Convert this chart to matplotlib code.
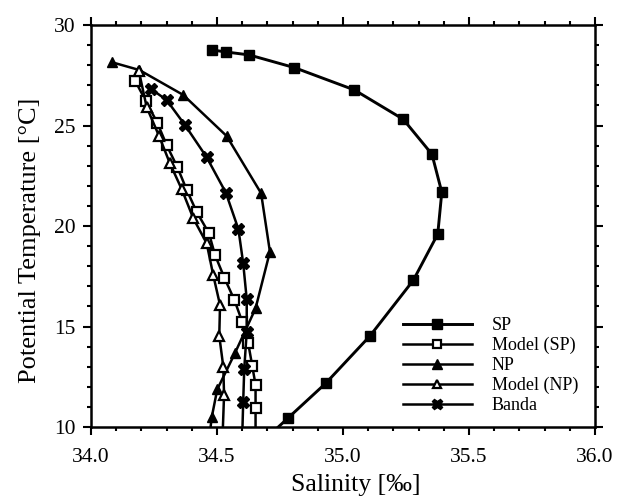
import matplotlib
matplotlib.use("Agg")
import matplotlib.pyplot as plt
from matplotlib.ticker import MultipleLocator, FormatStrFormatter

# ── Data (salinity [permil], potential temperature [degC]) ────────────────
SP_S = [34.479, 34.535, 34.628, 34.807, 35.045, 35.239, 35.353, 35.392,
        35.376, 35.279, 35.107, 34.931, 34.783, 34.700]
SP_T = [28.76, 28.66, 28.51, 27.88, 26.77, 25.31, 23.57, 21.68,
        19.60, 17.30, 14.53, 12.17, 10.46, 9.50]

MSP_S = [34.175, 34.217, 34.263, 34.300, 34.343, 34.380, 34.419, 34.468,
         34.492, 34.529, 34.569, 34.600, 34.624, 34.640, 34.653, 34.653, 34.653]
MSP_T = [27.23, 26.23, 25.14, 24.03, 22.92, 21.79, 20.71, 19.64,
         18.56, 17.43, 16.32, 15.24, 14.16, 13.03, 12.09, 10.93, 9.50]

NP_S = [34.085, 34.192, 34.366, 34.538, 34.675, 34.710, 34.653, 34.571,
        34.501, 34.479, 34.470]
NP_T = [28.14, 27.76, 26.52, 24.48, 21.63, 18.72, 15.90, 13.67,
        11.87, 10.48, 9.50]

MNP_S = [34.190, 34.221, 34.270, 34.313, 34.360, 34.406, 34.459, 34.485,
         34.512, 34.509, 34.525, 34.528, 34.522]
MNP_T = [27.70, 25.91, 24.48, 23.12, 21.83, 20.38, 19.14, 17.56,
         16.07, 14.53, 13.00, 11.59, 9.50]

BANDA_S = [34.238, 34.300, 34.373, 34.459, 34.535, 34.585, 34.604, 34.618,
           34.618, 34.608, 34.604, 34.600]
BANDA_T = [26.82, 26.27, 25.02, 23.42, 21.66, 19.84, 18.14, 16.35,
           14.74, 12.87, 11.26, 9.50]

LABELS = ["SP", "Model (SP)", "NP", "Model (NP)", "Banda"]

plt.rcParams["font.family"] = ["Liberation Serif", "DejaVu Serif"]

fig = plt.figure(figsize=(6.22, 5.01), dpi=100)
ax = fig.add_axes([0.1463, 0.1477, 0.8103, 0.8024])

ax.plot(SP_S, SP_T, "-s", color="black", lw=2.1, ms=7.5, mfc="black",
        mec="black", label=LABELS[0])
ax.plot(MSP_S, MSP_T, "-s", color="black", lw=1.8, ms=6.5, mfc="white",
        mec="black", mew=1.6, label=LABELS[1])
ax.plot(NP_S, NP_T, "-^", color="black", lw=1.8, ms=7.5, mfc="black",
        mec="black", label=LABELS[2])
ax.plot(MNP_S, MNP_T, "-^", color="black", lw=1.8, ms=6.5, mfc="white",
        mec="black", mew=1.6, label=LABELS[3])
ax.plot(BANDA_S, BANDA_T, "-X", color="black", lw=1.8, ms=8, mfc="black",
        mec="black", label=LABELS[4])

ax.set_xlim(34.0, 36.0)
ax.set_ylim(10, 30)
ax.xaxis.set_major_locator(MultipleLocator(0.5))
ax.xaxis.set_minor_locator(MultipleLocator(0.1))
ax.yaxis.set_major_locator(MultipleLocator(5))
ax.yaxis.set_minor_locator(MultipleLocator(1))
ax.xaxis.set_major_formatter(FormatStrFormatter("%.1f"))

for sp in ax.spines.values():
    sp.set_linewidth(1.8)
ax.tick_params(which="both", direction="out", top=True, right=True,
               width=1.5, labelsize=15.5)
ax.tick_params(which="major", length=6)
ax.tick_params(which="minor", length=3)
ax.tick_params(axis="x", pad=9)
ax.tick_params(axis="y", pad=5)

ax.set_xlabel("Salinity [‰]", fontsize=18.5)
ax.set_ylabel("Potential Temperature [°C]", fontsize=19)
ax.xaxis.set_label_coords(0.526, -0.118)
ax.yaxis.set_label_coords(-0.1, 0.465)

ax.legend(loc="upper left", bbox_to_anchor=(0.648, 0.367),
          bbox_transform=fig.transFigure, frameon=False, fontsize=13,
          handlelength=3.8, handletextpad=1.1, labelspacing=0.16,
          borderpad=0, borderaxespad=0, markerscale=0.95)

fig.savefig("out.png", dpi=100)
